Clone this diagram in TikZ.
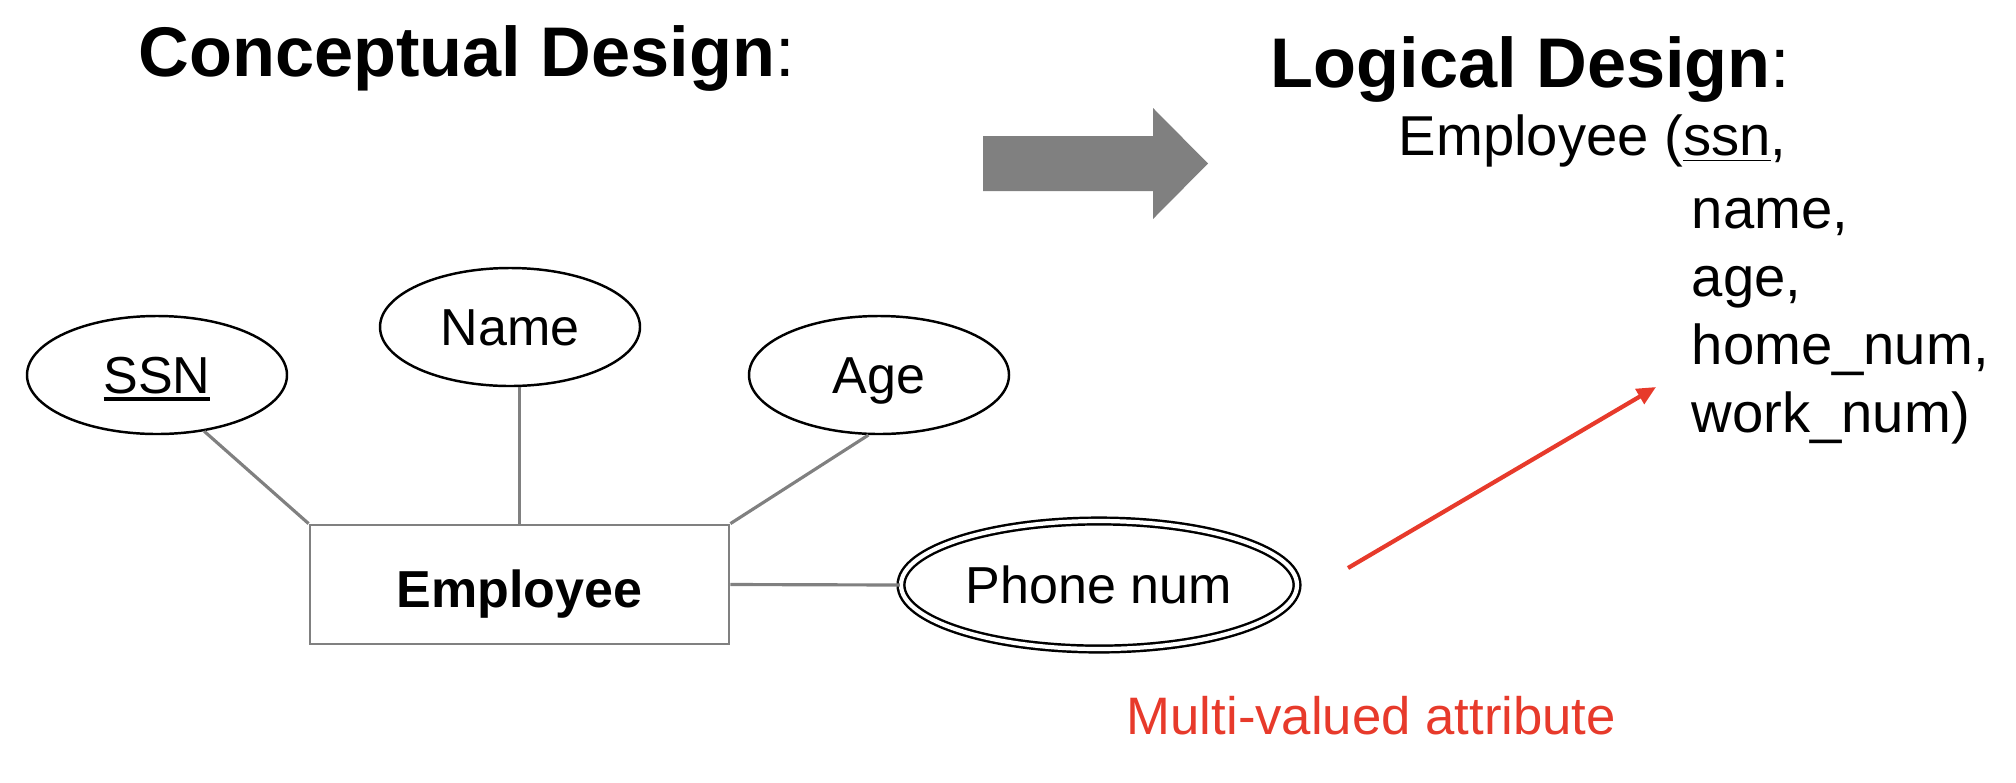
\documentclass[tikz,border=0pt]{standalone}
\usepackage{fontspec}
\setmainfont{Liberation Sans}
\usepackage{xcolor}
\usetikzlibrary{arrows.meta, positioning, shapes.geometric}
\definecolor{ergray}{HTML}{808080}
\definecolor{notered}{HTML}{E73A2B}
\newcommand{\keyattr}[1]{{\setbox0\hbox{#1}\rlap{\rule[-2pt]{\wd0}{1.1pt}}\box0}}

\begin{document}
\begin{tikzpicture}[
    attr/.style={ellipse, draw, line width=0.7pt, minimum width=2.6cm, minimum height=1.18cm,
                 inner sep=0pt, text height=10.6pt, text depth=0pt, font=\fontsize{14.8}{17}\selectfont},
    multiattr/.style={attr, double, double distance=1.2pt, minimum width=3.96cm, minimum height=1.28cm},
    entity/.style={rectangle, draw=ergray, line width=0.8pt, minimum width=4.19cm, minimum height=1.19cm,
                   text height=0.45cm, text depth=0cm, font=\fontsize{14.8}{17}\selectfont\bfseries},
    link/.style={draw=ergray, line width=0.9pt},
    title/.style={anchor=base west, inner sep=0pt, font=\fontsize{20}{24}\selectfont},
    schema/.style={anchor=base west, inner sep=0pt, font=\fontsize{16}{19}\selectfont},
    note/.style={anchor=base west, inner sep=0pt, text=notered, font=\fontsize{15}{18}\selectfont},
    pointer/.style={-{Triangle[length=5.4pt, width=4.8pt]}, draw=notered, line width=1.2pt},
]
  \useasboundingbox (0,0) rectangle (20.16,-7.82);

  % Titles
  \node[title] (concept) at (1.38,-0.76) {\textbf{Conceptual Design}:};
  \node[title] (logical) at (12.70,-0.87) {\textbf{Logical Design}:};

  % ER diagram
  \node[entity] (emp) at (5.195,-5.845) {Employee};
  \node[attr] (ssn) at (1.57,-3.75) {\keyattr{SSN}};
  \node[attr] (name) at (5.10,-3.27) {Name};
  \node[attr] (age) at (8.79,-3.75) {Age};
  \node[multiattr] (phone) at (10.99,-5.85) {Phone num};

  \draw[link] (ssn.310) -- (emp.north west);
  \draw[link] (emp.north |- name.south) -- (emp.north);
  \draw[link] (age.260) -- (emp.north east);
  \draw[link] (emp.east) -- (phone.west);

  % Block arrow between the two designs
  \fill[ergray] (9.83,-1.36) -- (11.53,-1.36) -- (11.53,-1.08) -- (12.08,-1.635)
    -- (11.53,-2.19) -- (11.53,-1.91) -- (9.83,-1.91) -- cycle;

  % Relational schema
  \node[schema] (relemp) at (13.98,-1.55) {Employee (\underline{ssn},};
  \node[schema] (relname) at (16.91,-2.28) {name,};
  \node[schema] (relage) at ([yshift=-0.68cm]relname.base west) {age,};
  \node[schema] (relhome) at ([yshift=-0.68cm]relage.base west) {home\_num,};
  \node[schema] (relwork) at ([yshift=-0.68cm]relhome.base west) {work\_num)};

  % Multi-valued note
  \coordinate (mvfrom) at (13.48,-5.68);
  \coordinate (mvto) at (16.56,-3.87);
  \draw[pointer] (mvfrom) -- (mvto);
  \node[note] (mvnote) at (11.26,-7.34) {Multi-valued attribute};
\end{tikzpicture}
\end{document}
